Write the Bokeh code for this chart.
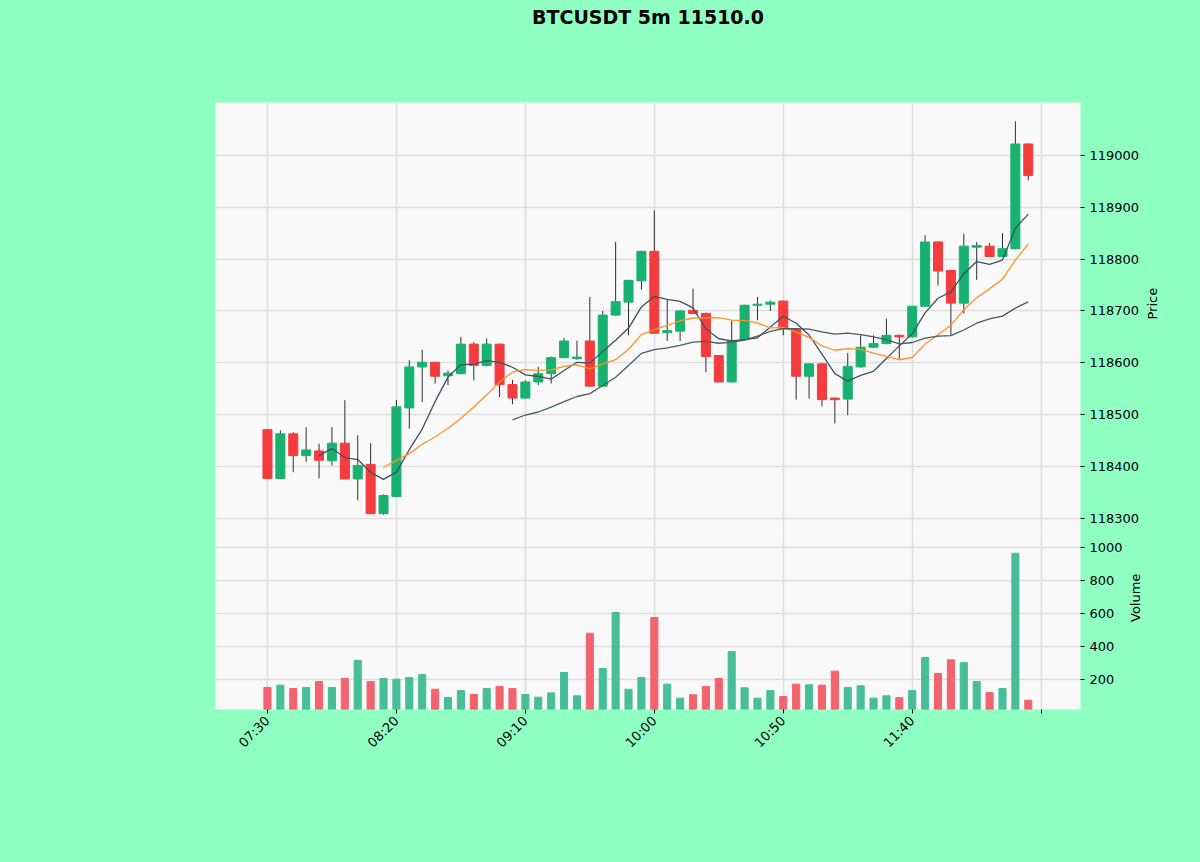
import math
import pandas as pd
from bokeh.plotting import figure
from bokeh.layouts import column
from bokeh.models import ColumnDataSource, FixedTicker, Range1d, BasicTickFormatter
from bokeh.core.properties import value
from bokeh.embed import file_html
from bokeh.resources import INLINE

title_text = "BTCUSDT 5m 11510.0"
tick_labels = ["07:30", "08:20", "09:10", "10:00", "10:50", "11:40", ""]

opens = [118471, 118377, 118463, 118421, 118430, 118411, 118445, 118376, 118404, 118309,
         118342, 118513, 118592, 118601, 118575, 118579, 118636, 118595, 118636, 118558,
         118532, 118563, 118579, 118610, 118608, 118642, 118555, 118692, 118717, 118758,
         118815, 118658, 118661, 118701, 118695, 118614, 118563, 118645, 118711, 118713,
         118719, 118664, 118574, 118598, 118532, 118530, 118592, 118630, 118637, 118653,
         118650, 118709, 118833, 118778, 118715, 118823, 118825, 118805, 118820, 119022]
highs = [118472, 118470, 118466, 118476, 118444, 118476, 118528, 118460, 118445, 118346,
         118528, 118605, 118625, 118602, 118585, 118650, 118640, 118647, 118637, 118567,
         118566, 118592, 118612, 118648, 118643, 118727, 118700, 118833, 118760, 118816,
         118894, 118722, 118701, 118743, 118697, 118615, 118682, 118712, 118727, 118720,
         118720, 118665, 118599, 118600, 118533, 118619, 118653, 118653, 118685, 118654,
         118710, 118846, 118834, 118779, 118849, 118833, 118831, 118850, 119066, 119023]
lows = [118376, 118376, 118389, 118409, 118377, 118402, 118376, 118335, 118309, 118307,
        118342, 118473, 118524, 118560, 118557, 118578, 118566, 118593, 118534, 118520,
        118531, 118557, 118560, 118609, 118606, 118554, 118554, 118691, 118653, 118741,
        118657, 118642, 118642, 118694, 118582, 118562, 118562, 118644, 118682, 118700,
        118653, 118529, 118531, 118516, 118483, 118499, 118591, 118628, 118636, 118608,
        118649, 118708, 118749, 118653, 118695, 118760, 118804, 118804, 118819, 118952]
closes = [118377, 118463, 118421, 118432, 118412, 118445, 118376, 118402, 118309, 118344,
          118515, 118592, 118601, 118574, 118580, 118636, 118595, 118636, 118558, 118532,
          118563, 118579, 118610, 118642, 118611, 118555, 118692, 118718, 118759, 118815,
          118657, 118662, 118700, 118695, 118612, 118563, 118642, 118711, 118713, 118717,
          118666, 118574, 118598, 118529, 118529, 118593, 118630, 118637, 118653, 118650,
          118709, 118833, 118777, 118715, 118825, 118826, 118805, 118820, 119022, 118961]
volumes = [150, 164, 143, 150, 186, 150, 204, 315, 186, 204,
           200, 210, 228, 139, 89, 131, 107, 143, 156, 143,
           107, 91, 117, 241, 99, 479, 265, 605, 139, 210,
           575, 170, 85, 105, 156, 204, 368, 148, 85, 131,
           95, 170, 166, 164, 249, 150, 160, 85, 99, 88,
           131, 332, 235, 318, 301, 186, 119, 143, 965, 72]
ma_windows = [5, 10, 20]
price_ticks = [118300, 118400, 118500, 118600, 118700, 118800, 118900, 119000]
volume_ticks = [200, 400, 600, 800, 1000]

BG = "#90FFC2"
PANEL = "#F9F9F9"
GRID = "#DEDEDE"
UP = "#17B26F"
DOWN = "#F43C3F"
VUP = "#47BE97"
VDOWN = "#F2636E"
MA_COLORS = ["#3C5162", "#FF9226", "#4A5C5C"]
FONT = "DejaVu Sans"

n = len(closes)
df = pd.DataFrame({"x": list(range(n)), "open": opens, "high": highs, "low": lows,
                   "close": closes, "volume": volumes})
df["top"] = df[["open", "close"]].max(axis=1)
df["bottom"] = df[["open", "close"]].min(axis=1)
up = df["close"] >= df["open"]
df["color"] = [UP if u else DOWN for u in up]
df["vcolor"] = [VUP if u else VDOWN for u in up]
for w in ma_windows:
    df[f"ma{w}"] = df["close"].rolling(w).mean()
src = ColumnDataSource(df)

x_range = Range1d(-4.03, 63.05)
tick_pos = [i * 10 for i in range(len(tick_labels))]


def style_common(p):
    p.background_fill_color = PANEL
    p.border_fill_color = BG
    p.outline_line_color = None
    p.xgrid.ticker = FixedTicker(ticks=tick_pos)
    for g in (p.xgrid, p.ygrid):
        g.grid_line_color = GRID
        g.grid_line_width = 1.6
    ax = p.yaxis[0]
    ax.formatter = BasicTickFormatter(use_scientific=False)
    ax.axis_line_color = None
    ax.major_tick_in = 0
    ax.major_tick_out = 4
    ax.minor_tick_line_color = None
    ax.major_label_text_font = FONT
    ax.major_label_text_font_size = "13px"
    ax.major_label_text_color = "#000000"
    ax.axis_label_text_font = FONT
    ax.axis_label_text_font_size = "13px"
    ax.axis_label_text_font_style = "normal"
    ax.axis_label_text_color = "#000000"
    try:
        ax.axis_label_orientation = math.pi / 2
    except Exception:
        pass


# Title strip
t = figure(width=1200, height=40, x_range=Range1d(0, 1), y_range=Range1d(0, 1),
           min_border=0, x_axis_location=None, y_axis_location=None,
           output_backend="svg", toolbar_location=None)
t.grid.visible = False
t.outline_line_color = None
t.background_fill_color = BG
t.border_fill_color = BG
t.text(x=[0.5], y=[0.6], text=[title_text], text_align="center", text_baseline="middle",
       text_font=value(FONT), text_font_size="19px", text_font_style="bold",
       text_color="#000000")

# Price panel
p = figure(frame_width=865, frame_height=434, min_border_left=215, min_border_right=120,
           min_border_top=62, min_border_bottom=0, x_range=x_range,
           y_range=Range1d(118265, 119102), x_axis_location=None,
           y_axis_location="right", output_backend="svg", toolbar_location=None)
style_common(p)
p.yaxis.ticker = FixedTicker(ticks=price_ticks)
p.yaxis.axis_label = "Price"
p.yaxis.axis_label_standoff = 10

p.segment(x0="x", y0="low", x1="x", y1="high", source=src, line_color="#2E2E2E", line_width=1)
p.vbar(x="x", top="top", bottom="bottom", width=0.7, source=src,
       fill_color="color", line_color="color", line_width=1)
for w, c in zip(ma_windows, MA_COLORS):
    p.line(x="x", y=f"ma{w}", source=src, line_color=c, line_width=1.3)

# Volume panel
v = figure(frame_width=865, frame_height=175, min_border_left=215, min_border_right=120,
           min_border_top=0, min_border_bottom=60, x_range=x_range,
           y_range=Range1d(16, 1079), y_axis_location="right",
           output_backend="svg", toolbar_location=None,
           styles={"margin-top": "-2px"})
style_common(v)
v.yaxis.ticker = FixedTicker(ticks=volume_ticks)
v.yaxis.axis_label = "Volume"
v.yaxis.axis_label_standoff = 10
xa = v.xaxis[0]
xa.ticker = FixedTicker(ticks=tick_pos)
xa.major_label_overrides = {t_: lab for t_, lab in zip(tick_pos, tick_labels)}
xa.major_label_orientation = math.pi / 4
xa.axis_line_color = None
xa.major_tick_in = 0
xa.major_tick_out = 4
xa.minor_tick_line_color = None
xa.major_label_text_font = FONT
xa.major_label_text_font_size = "13px"
xa.major_label_text_color = "#000000"

v.vbar(x="x", top="volume", bottom=0, width=0.55, source=src,
       fill_color="vcolor", line_color="vcolor")

layout = column(t, p, v, spacing=0, styles={"background-color": BG})
html = file_html(layout, INLINE)
html = html.replace("<head>", "<head><style>html,body{background-color:%s;}</style>" % BG, 1)
open("out.html", "w").write(html)
